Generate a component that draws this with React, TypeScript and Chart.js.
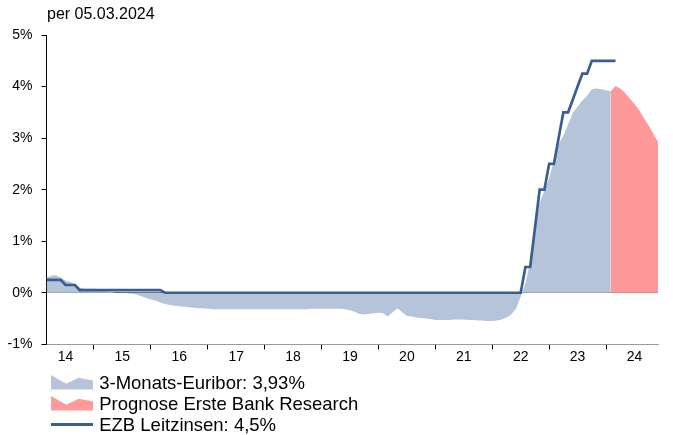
import React, { useEffect, useRef } from 'react';
import { Chart, registerables } from 'chart.js';

Chart.register(...registerables);

// ---------- data ----------
const TITLE = 'per 05.03.2024';
const yearLabels = ['14', '15', '16', '17', '18', '19', '20', '21', '22', '23', '24'];
const firstYear = 2014;

// 3-Monats-Euribor, month-end values from Feb 2014 to Jan 2024
const euriborStart = '2014-02';
const euribor3M = [
  0.29, 0.33, 0.34, 0.29, 0.24, 0.21, 0.17, 0.10, 0.08, 0.08, 0.08,
  0.07, 0.05, 0.03, 0.01, 0.00, -0.01, -0.01, -0.02, -0.04, -0.07, -0.10, -0.13,
  -0.15, -0.19, -0.22, -0.24, -0.25, -0.26, -0.27, -0.28, -0.29, -0.30, -0.30, -0.31,
  -0.32, -0.32, -0.32, -0.32, -0.32, -0.32, -0.32, -0.32, -0.32, -0.32, -0.32, -0.32,
  -0.32, -0.32, -0.32, -0.32, -0.32, -0.32, -0.32, -0.32, -0.32, -0.31, -0.31, -0.31,
  -0.31, -0.31, -0.31, -0.31, -0.32, -0.34, -0.37, -0.41, -0.42, -0.41, -0.40, -0.39,
  -0.40, -0.46, -0.38, -0.30, -0.38, -0.45, -0.46, -0.48, -0.49, -0.50, -0.51, -0.53,
  -0.53, -0.53, -0.53, -0.52, -0.52, -0.52, -0.53, -0.53, -0.54, -0.54, -0.55, -0.55,
  -0.54, -0.52, -0.48, -0.42, -0.31, -0.08, 0.18, 0.60, 1.20, 1.75, 1.98, 2.22,
  2.55, 2.88, 3.05, 3.27, 3.49, 3.61, 3.73, 3.82, 3.95, 3.96, 3.95, 3.93,
  3.91,
];

// Prognose Erste Bank Research, Jan 2024 to Nov 2024
const forecastStart = '2024-01';
const forecast = [3.91, 4.01, 3.96, 3.88, 3.77, 3.66, 3.54, 3.39, 3.24, 3.08, 2.92];

// EZB Leitzinsen, month-end values from Feb 2014 to Feb 2024
const ezbStart = '2014-02';
const ezbRates = [
  0.25, 0.25, 0.25, 0.25, 0.15, 0.15, 0.15, 0.05, 0.05, 0.05, 0.05,
  0.05, 0.05, 0.05, 0.05, 0.05, 0.05, 0.05, 0.05, 0.05, 0.05, 0.05, 0.05,
  0.05, 0.05, 0, 0, 0, 0, 0, 0, 0, 0, 0, 0,
  0, 0, 0, 0, 0, 0, 0, 0, 0, 0, 0, 0,
  0, 0, 0, 0, 0, 0, 0, 0, 0, 0, 0, 0,
  0, 0, 0, 0, 0, 0, 0, 0, 0, 0, 0, 0,
  0, 0, 0, 0, 0, 0, 0, 0, 0, 0, 0, 0,
  0, 0, 0, 0, 0, 0, 0, 0, 0, 0, 0, 0,
  0, 0, 0, 0, 0, 0, 0.5, 0.5, 1.25, 2.0, 2.0, 2.5,
  2.5, 3.0, 3.5, 3.5, 3.75, 4.0, 4.25, 4.25, 4.5, 4.5, 4.5, 4.5,
  4.5, 4.5,
];

const yMin = -1;
const yMax = 5;
const legendLabels = ['3-Monats-Euribor: 3,93%', 'Prognose Erste Bank Research', 'EZB Leitzinsen: 4,5%'];

// ---------- styles ----------
const FONT = '"Liberation Sans", Arial, Helvetica, sans-serif';
const BLUE_FILL = 'rgb(181, 196, 216)';
const RED_FILL = 'rgb(255, 153, 153)';
const LINE_BLUE = 'rgb(58, 93, 148)';

// month-end position as decimal year
function monthEnd(start: string, i: number): number {
  const [y, m] = start.split('-').map(Number);
  const idx = y * 12 + (m - 1) + i;
  const year = Math.floor(idx / 12);
  const month = (idx % 12) + 1;
  return year + month / 12;
}

function toPoints(start: string, values: number[]) {
  return values.map((v, i) => ({ x: monthEnd(start, i), y: v }));
}

function Icon({ color, kind }: { color: string; kind: 'area' | 'line' }) {
  if (kind === 'line') {
    return (
      <svg width={43} height={15} style={{ display: 'block' }}>
        <line x1={0} y1={7.5} x2={42} y2={7.5} stroke={color} strokeWidth={3} />
      </svg>
    );
  }
  return (
    <svg width={43} height={15} style={{ display: 'block' }}>
      <polygon points="0,0 15.3,8.7 27.6,2.7 42,5.4 42,14.4 0,14.4" fill={color} />
    </svg>
  );
}

export default function App() {
  const ref = useRef<HTMLCanvasElement | null>(null);

  useEffect(() => {
    document.body.style.margin = '0';
    const canvas = ref.current;
    if (!canvas) return;

    const euriborPts = toPoints(euriborStart, euribor3M);
    const forecastPts = toPoints(forecastStart, forecast);
    const ezbPts = toPoints(ezbStart, ezbRates);
    const xMin = euriborPts[0].x;
    const xMax = forecastPts[forecastPts.length - 1].x;

    const tickValues: number[] = [];
    yearLabels.forEach((_, i) => {
      const y = firstYear + i;
      if (y >= xMin && y <= xMax) tickValues.push(y);
      tickValues.push(y + 0.5);
    });

    const chart = new Chart(canvas, {
      type: 'line',
      data: {
        datasets: [
          {
            label: legendLabels[2],
            data: ezbPts,
            borderColor: LINE_BLUE,
            borderWidth: 2.7,
            pointRadius: 0,
            fill: false,
            tension: 0,
            order: 0,
          },
          {
            label: legendLabels[0],
            data: euriborPts,
            backgroundColor: BLUE_FILL,
            borderColor: 'transparent',
            borderWidth: 0,
            pointRadius: 0,
            fill: 'origin',
            tension: 0,
            order: 1,
          },
          {
            label: legendLabels[1],
            data: forecastPts,
            backgroundColor: RED_FILL,
            borderColor: 'transparent',
            borderWidth: 0,
            pointRadius: 0,
            fill: 'origin',
            tension: 0,
            order: 2,
          },
        ],
      },
      options: {
        animation: false,
        responsive: false,
        events: [],
        layout: { padding: { top: 35, right: 14.8, bottom: 70.7, left: 0 } },
        plugins: {
          legend: { display: false },
          title: { display: false },
          tooltip: { enabled: false },
        },
        scales: {
          x: {
            type: 'linear',
            min: xMin,
            max: xMax,
            afterBuildTicks: (scale: any) => {
              scale.ticks = tickValues.map((v) => ({ value: v }));
            },
            afterFit: (scale: any) => {
              scale.height = 20;
            },
            ticks: {
              autoSkip: false,
              maxRotation: 0,
              minRotation: 0,
              padding: -0.5,
              color: '#000',
              font: { family: FONT, size: 14 },
              callback: (value: any) => {
                const v = Number(value);
                if (Number.isInteger(v)) return '';
                const idx = Math.floor(v) - firstYear;
                return yearLabels[idx] ?? '';
              },
            },
            grid: {
              drawOnChartArea: false,
              drawTicks: true,
              tickLength: 5,
              color: 'transparent',
              tickColor: (ctx: any) =>
                ctx.tick && Number.isInteger(ctx.tick.value) ? '#000' : 'transparent',
              tickWidth: 1,
            },
            border: { display: true, color: '#9a9a9a', width: 1 },
          },
          y: {
            min: yMin,
            max: yMax,
            afterFit: (scale: any) => {
              scale.width = 46.5;
            },
            ticks: {
              stepSize: 1,
              padding: 9,
              color: '#000',
              font: { family: FONT, size: 14 },
              callback: (value: any) => `${value}%`,
            },
            grid: {
              drawOnChartArea: true,
              drawTicks: true,
              tickLength: 5,
              color: (ctx: any) => (ctx.tick && ctx.tick.value === 0 ? '#5a5a5a' : 'transparent'),
              tickColor: '#000',
              lineWidth: 1,
            },
            border: { display: true, color: '#000', width: 1 },
          },
        },
      },
    } as any);

    return () => chart.destroy();
  }, []);

  const legendItems = [
    { label: legendLabels[0], color: BLUE_FILL, kind: 'area' as const },
    { label: legendLabels[1], color: RED_FILL, kind: 'area' as const },
    { label: legendLabels[2], color: LINE_BLUE, kind: 'line' as const },
  ];

  return (
    <div style={{ position: 'relative', width: 673, height: 435, fontFamily: FONT, color: '#000' }}>
      <canvas ref={ref} width={673} height={435} style={{ display: 'block', position: 'absolute', left: 0, top: 0 }} />
      <div
        style={{
          position: 'absolute',
          left: 47,
          top: 4,
          fontSize: 16,
          lineHeight: '20px',
          whiteSpace: 'nowrap',
        }}
      >
        {TITLE}
      </div>
      {legendItems.map((it, i) => (
        <div
          key={it.label}
          style={{
            position: 'absolute',
            left: 50.7,
            top: 372 + i * 21,
            height: 21,
            display: 'flex',
            alignItems: 'center',
            whiteSpace: 'nowrap',
          }}
        >
          <div style={{ width: 48.5 }}>
            <Icon color={it.color} kind={it.kind} />
          </div>
          <span style={{ fontSize: 18.5, lineHeight: '21px' }}>{it.label}</span>
        </div>
      ))}
    </div>
  );
}
